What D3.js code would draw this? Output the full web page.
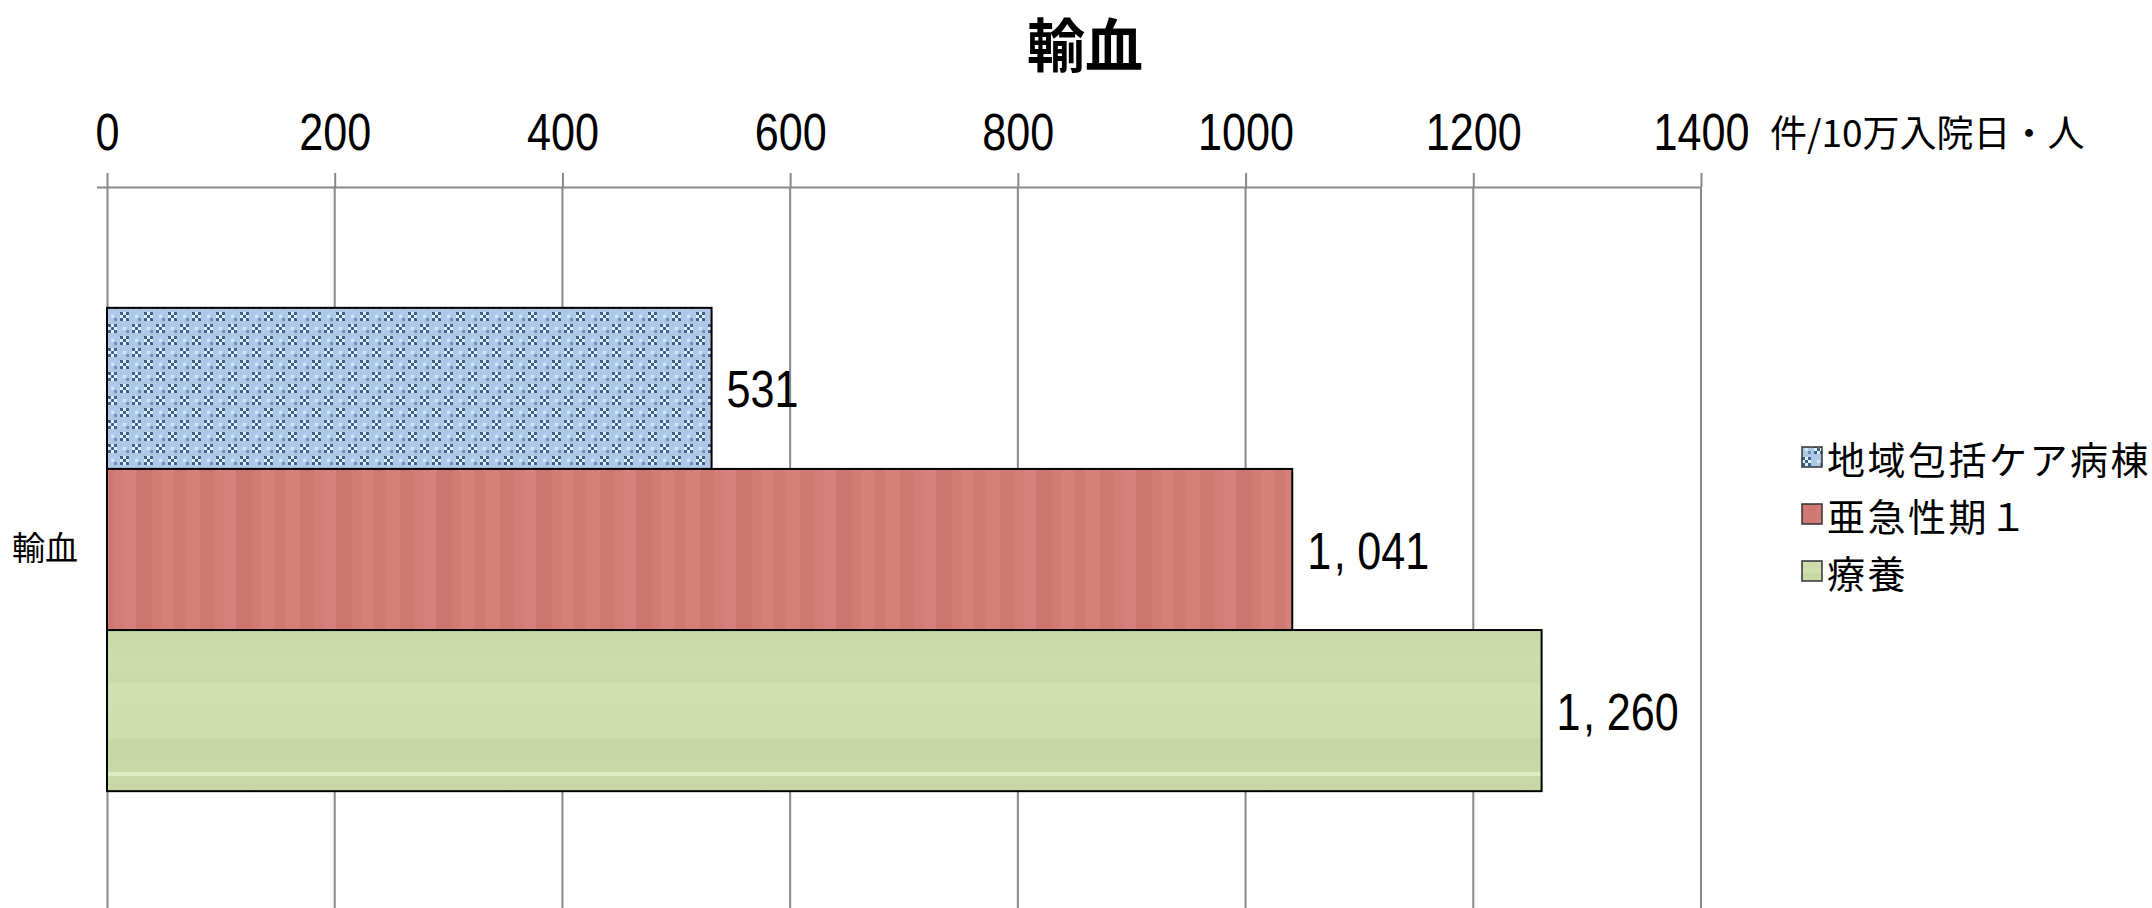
<!DOCTYPE html>
<html><head><meta charset="utf-8">
<script src="https://cdn.jsdelivr.net/npm/d3@7"></script>
<style>
html,body{margin:0;padding:0;background:#fff;}
svg{display:block;}
</style></head>
<body>
<svg id="chart" width="2152" height="908"></svg>
<script>
const title = "輸血";
const categories = ["輸血"];
const seriesNames = ["地域包括ケア病棟", "亜急性期１", "療養"];
const values = [531, 1041, 1260];
const xTicks = [0, 200, 400, 600, 800, 1000, 1200, 1400];
const unitLabel = "件/10万入院日・人";

const W = 2152, H = 908;
const svg = d3.select("#chart");
const CJK = "'Noto Sans CJK JP','Noto Sans CJK SC',sans-serif";
const NUM = "'Liberation Sans','DejaVu Sans',sans-serif";
const NARROW = 0.83;

const x = d3.scaleLinear().domain([0, 1400]).range([107, 1701]);
const yCat = d3.scaleBand().domain(categories).range([187, 912]).paddingOuter(0.25).paddingInner(0);
const ySer = d3.scaleBand().domain(seriesNames).range([0, yCat.bandwidth()]);

// ---- patterns ----
const defs = svg.append("defs");
const pb = defs.append("pattern").attr("id", "pBlue").attr("patternUnits", "userSpaceOnUse")
  .attr("width", 24).attr("height", 24);
pb.append("rect").attr("width", 24).attr("height", 24).attr("fill", "#b0c8e8");
const clusters = [[0, 0], [12, 12]];
clusters.forEach(([cx, cy]) => {
  for (let i = 0; i < 3; i++) for (let j = 0; j < 3; j++) {
    pb.append("rect").attr("x", cx + i * 3).attr("y", cy + j * 3).attr("width", 3).attr("height", 3)
      .attr("fill", ((i + j) % 2 === 0) ? "#40618c" : "#dff3ff");
  }
});
[[15, 3], [3, 15]].forEach(([cx, cy]) => {
  pb.append("rect").attr("x", cx).attr("y", cy).attr("width", 3).attr("height", 3).attr("fill", "#d0e8fb");
  pb.append("rect").attr("x", cx + 3).attr("y", cy + 3).attr("width", 3).attr("height", 3).attr("fill", "#6e8fb5");
});
const redStripes = [["#cf7773", 14], ["#d37d79", 10], ["#d6817d", 12], ["#cd7571", 16], ["#d17a76", 9], ["#d6807c", 13], ["#cf7874", 11], ["#d47f7a", 15]];
const prW = d3.sum(redStripes, d => d[1]);
const pr = defs.append("pattern").attr("id", "pRed").attr("patternUnits", "userSpaceOnUse")
  .attr("width", prW).attr("height", 200);
let acc = 0;
redStripes.forEach(([c, w]) => {
  pr.append("rect").attr("x", acc).attr("y", 0).attr("width", w).attr("height", 200).attr("fill", c);
  acc += w;
});
const gg = defs.append("linearGradient").attr("id", "gGreen").attr("x1", 0).attr("y1", 0).attr("x2", 0).attr("y2", 1);
const gStops = [[0, "#c8d8a7"], [0.2, "#cfddae"], [0.33, "#cbdaaa"], [0.33, "#d2e0b2"], [0.674, "#cfdeae"], [0.674, "#c7d6a5"],
  [0.88, "#cad9a8"], [0.88, "#e0ebc3"], [0.905, "#e0ebc3"], [0.905, "#ccdaaa"], [1, "#c8d7a6"]];
gStops.forEach(([o, c]) => gg.append("stop").attr("offset", o).attr("stop-color", c));
const fills = ["url(#pBlue)", "url(#pRed)", "url(#gGreen)"];

// ---- title ----
svg.append("text").attr("x", 1085).attr("y", 67).attr("text-anchor", "middle")
  .style("font-family", CJK).style("font-weight", "bold").style("font-size", "58px").attr("fill", "#000").text(title);

// ---- gridlines ----
svg.append("g").selectAll("line").data(xTicks.filter(t => t > 0)).join("line")
  .attr("x1", d => x(d)).attr("x2", d => x(d)).attr("y1", 187).attr("y2", H)
  .attr("stroke", "#888").attr("stroke-width", 2);

// ---- top axis ----
const ax = svg.append("g").attr("transform", "translate(0,187)")
  .call(d3.axisTop(x).tickValues(xTicks).tickSize(14).tickSizeOuter(0).tickPadding(23).tickFormat(d3.format("d")));
ax.select(".domain").attr("stroke", "#888").attr("stroke-width", 2);
ax.selectAll(".tick line").attr("stroke", "#888").attr("stroke-width", 2);
ax.selectAll(".tick text").attr("fill", "#000").style("font-family", NUM).style("font-size", "52px")
  .attr("transform", `scale(${NARROW},1)`).attr("y", -37);

// ---- left category axis ----
const ay = svg.append("g").attr("transform", "translate(107,0)")
  .call(d3.axisLeft(yCat).tickSize(0).tickSizeOuter(10).tickPadding(29));
ay.select(".domain").attr("stroke", "#888").attr("stroke-width", 2).attr("fill", "none");
ay.selectAll(".tick text").attr("fill", "#000").style("font-family", CJK).style("font-size", "33px");

// ---- unit label ----
svg.append("text").attr("x", 1770).attr("y", 147).style("font-family", CJK).style("font-size", "37px")
  .attr("fill", "#000").text(unitLabel);

// ---- bars ----
const rows = seriesNames.map((s, i) => ({ s, v: values[i], i, c: categories[0] }));
svg.append("g").selectAll("rect").data(rows).join("rect")
  .attr("x", x(0)).attr("y", d => yCat(d.c) + ySer(d.s))
  .attr("width", d => x(d.v) - x(0)).attr("height", ySer.bandwidth())
  .attr("fill", d => fills[d.i]).attr("stroke", "#000").attr("stroke-width", 2);

// ---- data labels ----
const fmt = d3.format(",");
const lblG = svg.append("g").selectAll("g").data(rows).join("g")
  .attr("transform", d => `translate(${x(d.v) + 15},${yCat(d.c) + ySer(d.s) + ySer.bandwidth() / 2}) scale(${NARROW},1)`);
const lbl = lblG.append("text").attr("x", 0).attr("y", 19)
  .style("font-family", NUM).style("font-size", "52px").attr("fill", "#000");
lbl.each(function (d) {
  const parts = fmt(d.v).split(",");
  const t = d3.select(this);
  parts.forEach((p, k) => {
    if (k > 0) t.append("tspan").attr("dx", 3).text(",");
    t.append("tspan").attr("dx", k > 0 ? 14 : 0).text(p);
  });
});

// ---- legend ----
const leg = svg.append("g").selectAll("g").data(rows).join("g")
  .attr("transform", d => `translate(1802,${457 + d.i * 57})`);
leg.append("rect").attr("x", 0).attr("y", -10).attr("width", 20).attr("height", 20)
  .attr("fill", d => fills[d.i]).attr("stroke", "#333").attr("stroke-width", 1.5);
leg.append("text").attr("x", 25).attr("y", 0).attr("dominant-baseline", "central")
  .style("font-family", CJK).style("font-size", "38px").style("letter-spacing", "2.5px").attr("fill", "#000")
  .text(d => d.s);
</script>
</body></html>
